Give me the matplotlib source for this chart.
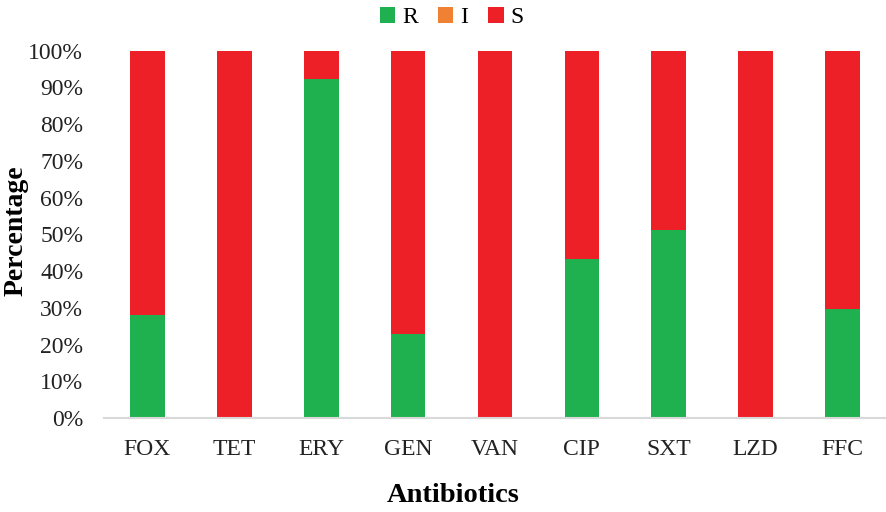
import matplotlib
matplotlib.use('Agg')
import matplotlib.pyplot as plt
import numpy as np

ANTIBIOTICS = ["FOX", "TET", "ERY", "GEN", "VAN", "CIP", "SXT", "LZD", "FFC"]
R_PCT = [28.0, 0.0, 92.2, 22.9, 0.0, 43.3, 51.2, 0.0, 29.8]
I_PCT = [0, 0, 0, 0, 0, 0, 0, 0, 0]
S_PCT = [72.0, 100.0, 7.8, 77.1, 100.0, 56.7, 48.8, 100.0, 70.2]

GREEN = '#1fb14f'
ORANGE = '#f08032'
RED = '#ed2027'

plt.rcParams['font.family'] = ['Liberation Serif', 'DejaVu Serif']

fig = plt.figure(figsize=(8.86, 5.12), dpi=100)
ax = fig.add_axes([0.1174, 0.1836, 0.8826, 0.7175])

x = np.arange(len(ANTIBIOTICS))
width = 0.4
r = np.array(R_PCT) / 100
i = np.array(I_PCT) / 100
s = np.array(S_PCT) / 100
ax.bar(x, r, width, color=GREEN, label="R")
ax.bar(x, i, width, bottom=r, color=ORANGE, label="I")
ax.bar(x, s, width, bottom=r + i, color=RED, label="S")

ax.set_xlim(-0.5, len(ANTIBIOTICS) - 0.5)
ax.set_ylim(0, 1)
ax.set_yticks(np.arange(0, 1.01, 0.1))
ax.set_yticklabels([f"{v}%" for v in range(0, 101, 10)])
ax.set_xticks(x)
ax.set_xticklabels(ANTIBIOTICS)
ax.tick_params(axis='both', length=0, labelsize=17, colors='#222222')
ax.tick_params(axis='y', pad=15)
ax.tick_params(axis='x', pad=15)

for side in ['top', 'right', 'left']:
    ax.spines[side].set_visible(False)
ax.spines['bottom'].set_color('#d9d9d9')
ax.spines['bottom'].set_linewidth(1.5)

ax.set_xlabel("Antibiotics", fontsize=20.5, fontweight='bold')
ax.xaxis.set_label_coords(0.446, -0.177)
ax.set_ylabel("Percentage", fontsize=20, fontweight='bold')
ax.yaxis.set_label_coords(-0.097, 0.51)

fig.legend(loc='upper center', bbox_to_anchor=(0.51, 1.028), ncol=3, frameon=False,
           fontsize=17, handlelength=0.65, handleheight=0.65, handletextpad=0.3,
           columnspacing=0.85)

fig.savefig("out.png", dpi=100)
